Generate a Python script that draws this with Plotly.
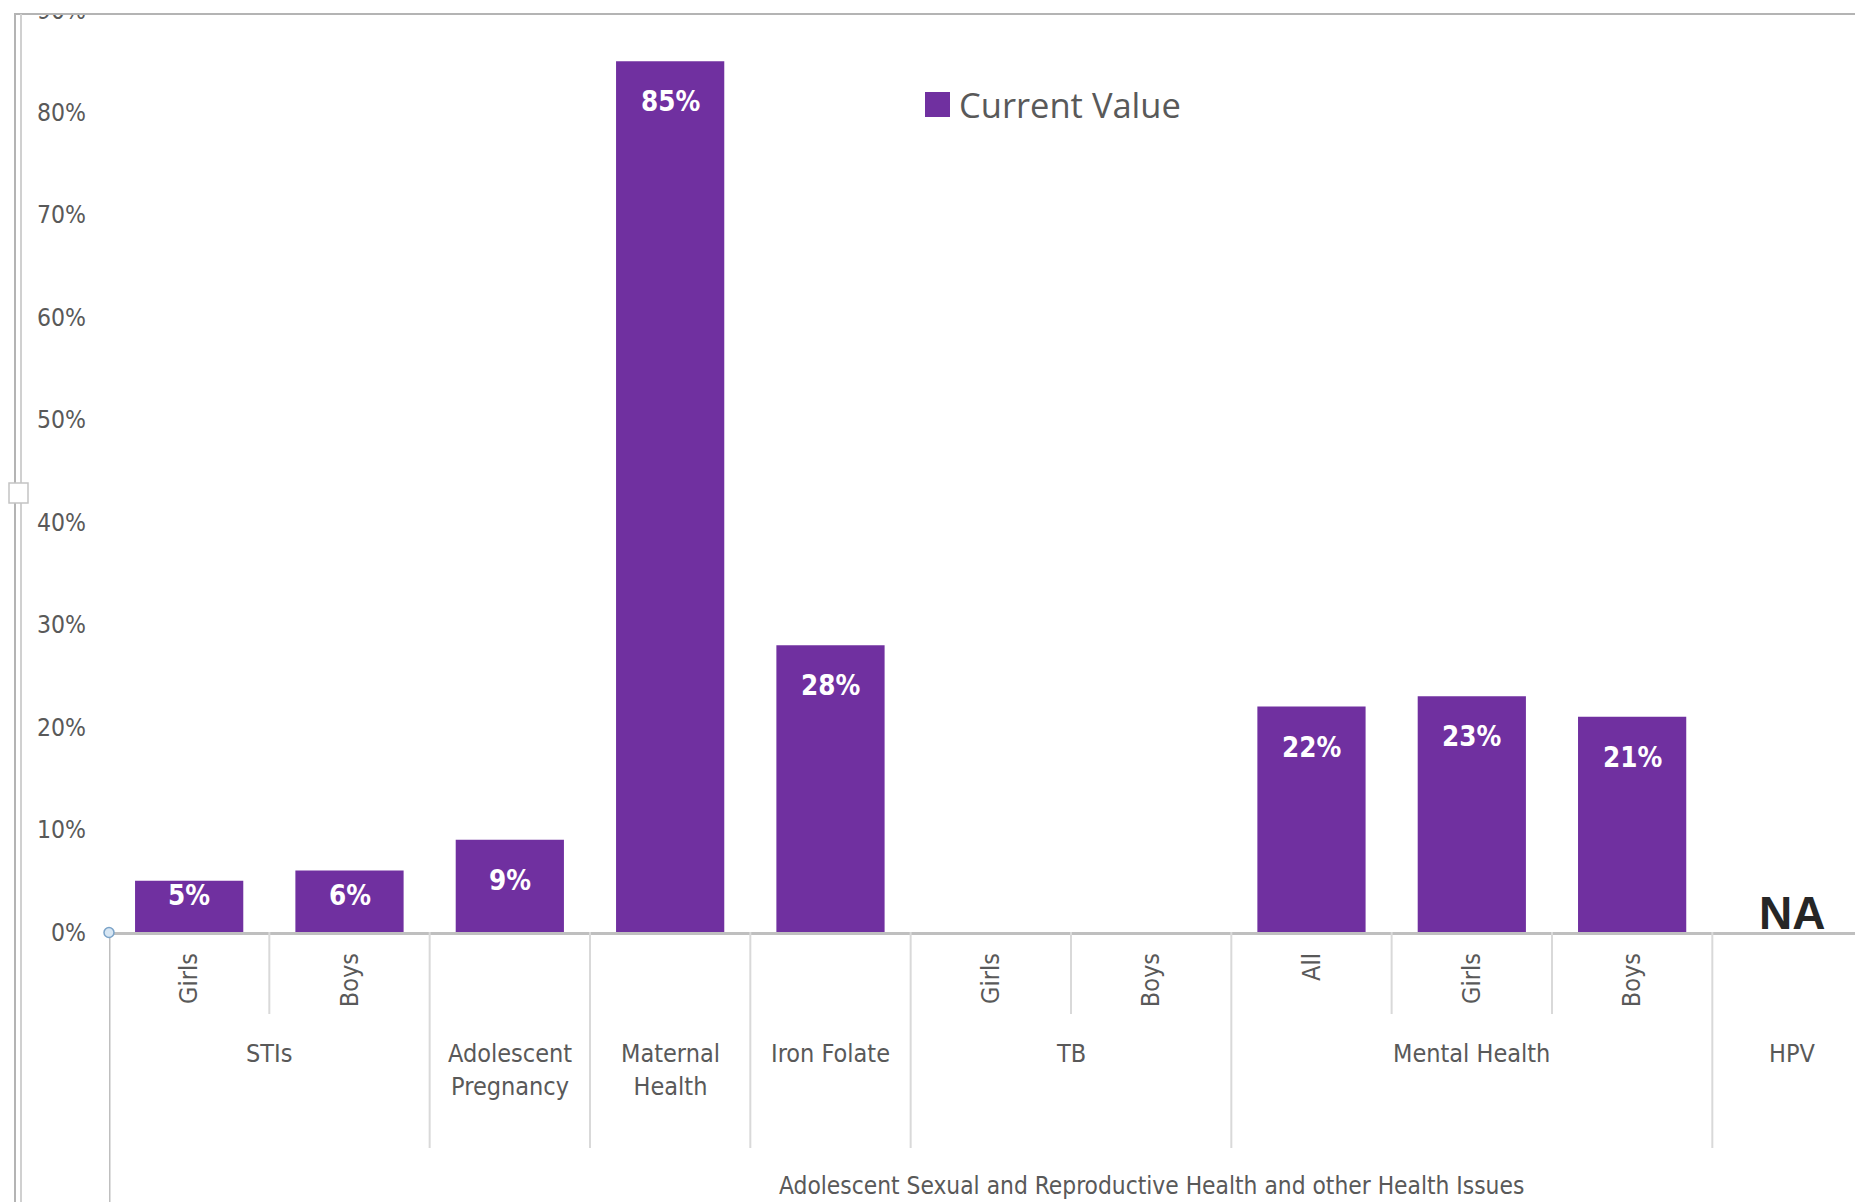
import plotly.graph_objects as go

# ---------------- data ----------------
sub_labels = ["Girls", "Boys", "", "", "", "Girls", "Boys", "All", "Girls", "Boys", ""]
group_labels = ["STIs", "Adolescent<br>Pregnancy", "Maternal<br>Health", "Iron Folate", "TB", "Mental Health", "HPV"]
group_members = [[0, 1], [2], [3], [4], [5, 6], [7, 8, 9], [10]]
top_label = "Adolescent Sexual and Reproductive Health and other Health Issues"
values = [0.05, 0.06, 0.09, 0.85, 0.28, None, None, 0.22, 0.23, 0.21, None]
value_text = ["5%", "6%", "9%", "85%", "28%", "", "", "22%", "23%", "21%", ""]
na_index = 10
series_name = "Current Value"
y_ticks = [0, 0.1, 0.2, 0.3, 0.4, 0.5, 0.6, 0.7, 0.8, 0.9]

# ---------------- style / layout ----------------
W, H = 1855, 1202
ML, MR, MT, MB = 109, 0, 0, 270
PW, PH = W - ML - MR, H - MT - MB
YMAX = 0.9097
XMIN, XMAX = -0.5, 10.39
PURPLE = "#7030A0"
GRAY_TXT = "#595959"
FONT = "Liberation Sans Narrow, DejaVu Sans Condensed, Arial Narrow, sans-serif"


def px2x(px):
    return (px - ML) / PW


def px2y(py):
    return (MT + PH - py) / PH


px_per_unit = PH / YMAX
x_pos = list(range(len(values)))

fig = go.Figure()
fig.add_trace(go.Bar(
    x=x_pos, y=values, name=series_name, marker=dict(color=PURPLE, line=dict(width=0)),
    width=0.675, showlegend=False, hoverinfo="skip",
))

annotations = []
# data labels inside bars
for i, (v, t) in enumerate(zip(values, value_text)):
    if v is None:
        continue
    h = v * px_per_unit
    off = min(40, h - 36.6)
    annotations.append(dict(x=i, y=v, xref="x", yref="y", text=t, showarrow=False,
                            yanchor="middle", yshift=-off,
                            font=dict(family=FONT, size=27.5, color="white", weight="bold")))

# NA label
annotations.append(dict(x=na_index, y=0, xref="x", yref="y", text="NA", showarrow=False,
                        yanchor="bottom", yshift=-9,
                        font=dict(family="Liberation Sans, Arial, sans-serif", size=46,
                                  color="#262626", weight="bold")))

# group labels
for lab, mem in zip(group_labels, group_members):
    annotations.append(dict(x=sum(mem) / len(mem), y=px2y(1037), xref="x", yref="paper",
                            text=lab, showarrow=False, yanchor="top",
                            font=dict(family=FONT, size=25, color=GRAY_TXT)))

# top level label
annotations.append(dict(x=6, y=px2y(1185), xref="x", yref="paper", text=top_label,
                        showarrow=False, yanchor="middle",
                        font=dict(family=FONT, size=24.3, color=GRAY_TXT)))

# legend (manual)
annotations.append(dict(x=px2x(957), y=px2y(104), xref="paper", yref="paper", text=series_name,
                        showarrow=False, xanchor="left", yanchor="middle",
                        font=dict(family="Open Sans, Noto Sans, sans-serif", size=34.5, color=GRAY_TXT)))

shapes = []
# legend square
shapes.append(dict(type="rect", xref="paper", yref="paper", x0=px2x(925), x1=px2x(950),
                   y0=px2y(92), y1=px2y(117), fillcolor=PURPLE, line=dict(width=0)))

# dividers
sub_div = [0.5, 5.5, 7.5, 8.5]
grp_div = [1.5, 2.5, 3.5, 4.5, 6.5, 9.5]
for d in sub_div:
    shapes.append(dict(type="line", xref="x", yref="paper", x0=d, x1=d, y0=0, y1=px2y(1014),
                       line=dict(color="#d9d9d9", width=2)))
for d in grp_div:
    shapes.append(dict(type="line", xref="x", yref="paper", x0=d, x1=d, y0=0, y1=px2y(1148),
                       line=dict(color="#d9d9d9", width=2)))
# category axis left border (extends below the axis)
shapes.append(dict(type="line", xref="x", yref="paper", x0=XMIN, x1=XMIN, y0=0, y1=px2y(H),
                   line=dict(color="#bfbfbf", width=3)))
# origin handle
shapes.append(dict(type="circle", xref="paper", yref="paper",
                   x0=px2x(104), x1=px2x(114), y0=px2y(927.5), y1=px2y(937.5),
                   fillcolor="#d7e6f3", line=dict(color="#7ba3c8", width=1.5)))

# window frame artefacts (clip top, frame lines, handle)
shapes.append(dict(type="rect", xref="paper", yref="paper", x0=px2x(0), x1=px2x(W),
                   y0=px2y(0) + 0.01, y1=px2y(13), fillcolor="white", line=dict(width=0),
                   layer="above"))
shapes.append(dict(type="line", xref="paper", yref="paper", x0=px2x(14), x1=px2x(W),
                   y0=px2y(14), y1=px2y(14), line=dict(color="#b4b4b4", width=2), layer="above"))
shapes.append(dict(type="line", xref="paper", yref="paper", x0=px2x(15), x1=px2x(15),
                   y0=px2y(14), y1=px2y(H), line=dict(color="#b4b4b4", width=2)))
shapes.append(dict(type="line", xref="paper", yref="paper", x0=px2x(21), x1=px2x(21),
                   y0=px2y(14), y1=px2y(H), line=dict(color="#d0d0d0", width=2)))
shapes.append(dict(type="rect", xref="paper", yref="paper", x0=px2x(9), x1=px2x(28),
                   y0=px2y(483), y1=px2y(503), fillcolor="white",
                   line=dict(color="#c4c4c4", width=1.5)))

fig.update_layout(
    width=W, height=H,
    margin=dict(l=ML, r=MR, t=MT, b=MB, autoexpand=False),
    paper_bgcolor="white", plot_bgcolor="white",
    bargap=0.33,
    showlegend=False,
    annotations=annotations,
    shapes=shapes,
    font=dict(family=FONT, color=GRAY_TXT),
)
fig.update_xaxes(
    range=[XMIN, XMAX], tickmode="array", tickvals=x_pos, ticktext=sub_labels,
    tickangle=-90, ticks="", showgrid=False, zeroline=False,
    showline=True, linecolor="#bfbfbf", linewidth=3,
    tickfont=dict(family=FONT, size=25, color=GRAY_TXT), ticklabelstandoff=8,
    automargin=False, fixedrange=True,
)
fig.update_yaxes(
    range=[0, YMAX], tickmode="array", tickvals=y_ticks, tickformat=".0%",
    ticks="", showgrid=False, zeroline=False, showline=False,
    tickfont=dict(family=FONT, size=24.5, color=GRAY_TXT), ticklabelstandoff=22,
    ticklabeloverflow="allow",
    automargin=False, fixedrange=True,
)

fig.write_html("out.html", config={"displayModeBar": False},
               post_script="document.body.style.margin='0';document.body.style.overflow='hidden';")
